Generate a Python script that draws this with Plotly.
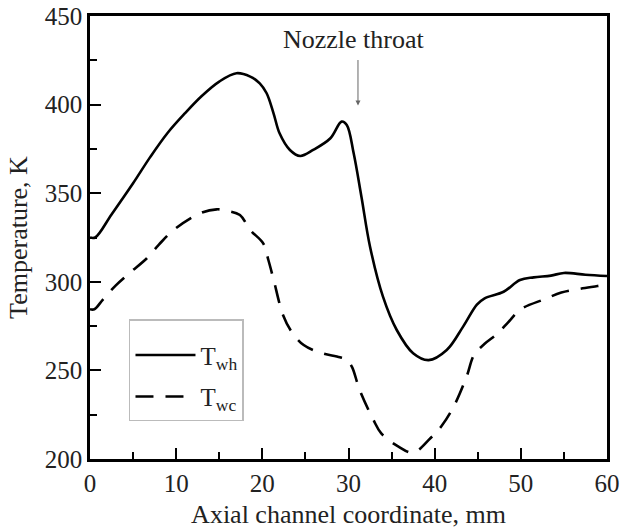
import plotly.graph_objects as go

x_wh = [0, 0.6, 2.5, 5.0, 7.0, 9.0, 11.0, 13.0, 15.0, 17.0, 18.6, 19.7, 20.5, 21.3, 22.0, 23.2, 24.4, 25.9, 27.9, 29.2, 29.8, 30.6, 31.5, 32.5, 34.0, 35.6, 37.5, 39.3, 41.4, 43.3, 44.9, 45.8, 48.0, 49.9, 51.5, 53.5, 55.0, 57.5, 60]
t_wh = [325, 325, 338, 355.6, 370.5, 384, 395, 405, 413, 417.7, 415.8, 412, 406.4, 395.1, 383.8, 374.4, 371, 374.4, 381, 390.4, 388.5, 372.5, 348, 319.8, 291.6, 272.8, 259.7, 255.8, 261.5, 274.7, 287.1, 290.7, 294.4, 301, 302.5, 303.5, 305, 304, 303.3]

x_wc = [0, 0.5, 1.5, 3.0, 4.6, 6.6, 8.0, 9.7, 12.8, 14.7, 16.0, 17.4, 18.6, 20.1, 20.7, 21.3, 22.4, 23.4, 24.8, 26.7, 29.0, 29.8, 30.4, 31.3, 32.9, 33.8, 35.8, 37.5, 39.5, 40.8, 42.2, 43.7, 44.6, 45.8, 47.3, 48.5, 50.0, 52.7, 54.7, 56.8, 58.9, 60]
t_wc = [284.5, 284.5, 290, 298, 305, 313.3, 321, 329.2, 338.7, 340.9, 340, 337.7, 329.2, 321.7, 312.3, 301.4, 281.3, 271.8, 264.3, 260, 257.4, 255.9, 252, 238.9, 222, 214.5, 207, 203.6, 211.7, 218.6, 229.5, 246.4, 259, 265, 270.8, 277, 284.5, 290.1, 293.9, 296, 297.6, 298.5]

FONT = "Liberation Serif"
TXT = "#222222"

fig = go.Figure()
fig.add_trace(go.Scatter(x=x_wh, y=t_wh, mode="lines", name="T<sub>wh</sub>", legendgroup="a",
                         line=dict(color="black", width=2.6, shape="spline", smoothing=1.0)))
fig.add_trace(go.Scatter(x=x_wc, y=t_wc, mode="lines", name="T<sub>wc</sub>", legendgroup="b",
                         line=dict(color="black", width=2.6, dash="18px,12px", shape="spline", smoothing=1.0)))

fig.add_annotation(x=30.6, y=436.5, xref="x", yref="y", text="Nozzle throat", showarrow=False,
                   font=dict(family=FONT, size=26, color=TXT))
fig.add_annotation(x=31.1, y=399.5, xref="x", yref="y", ax=31.1, ay=426, axref="x", ayref="y",
                   text="", showarrow=True, arrowhead=2, arrowsize=1, arrowwidth=1, arrowcolor="#666666")

axis_common = dict(showgrid=False, zeroline=False, showline=True, linecolor="black", linewidth=2.5,
                   mirror=True, ticks="inside", ticklen=11, tickwidth=2, tickcolor="black",
                   automargin=False,
                   tickfont=dict(family=FONT, size=25, color=TXT))
fig.update_xaxes(range=[0, 60], dtick=10,
                 title=dict(text="Axial channel coordinate, mm", font=dict(family=FONT, size=26, color=TXT), standoff=10),
                 minor=dict(dtick=5, ticks="inside", ticklen=7, tickwidth=2, tickcolor="black"), **axis_common)
fig.update_yaxes(range=[200, 450], dtick=50,
                 title=dict(text="Temperature, K", font=dict(family=FONT, size=26, color=TXT), standoff=10),
                 minor=dict(dtick=25, ticks="inside", ticklen=7, tickwidth=2, tickcolor="black"), **axis_common)

fig.update_layout(
    width=622, height=532,
    margin=dict(l=90, r=15, t=16, b=73),
    plot_bgcolor="white", paper_bgcolor="white",
    showlegend=True,
    legend=dict(x=0.0754, y=0.316, xanchor="left", yanchor="top",
                bordercolor="#bbbbbb", borderwidth=1.5, bgcolor="white",
                font=dict(family=FONT, size=25, color=TXT), itemwidth=60,
                tracegroupgap=6,
                title=dict(text=" ", font=dict(size=9))),
)

fig.write_html("out.html")
